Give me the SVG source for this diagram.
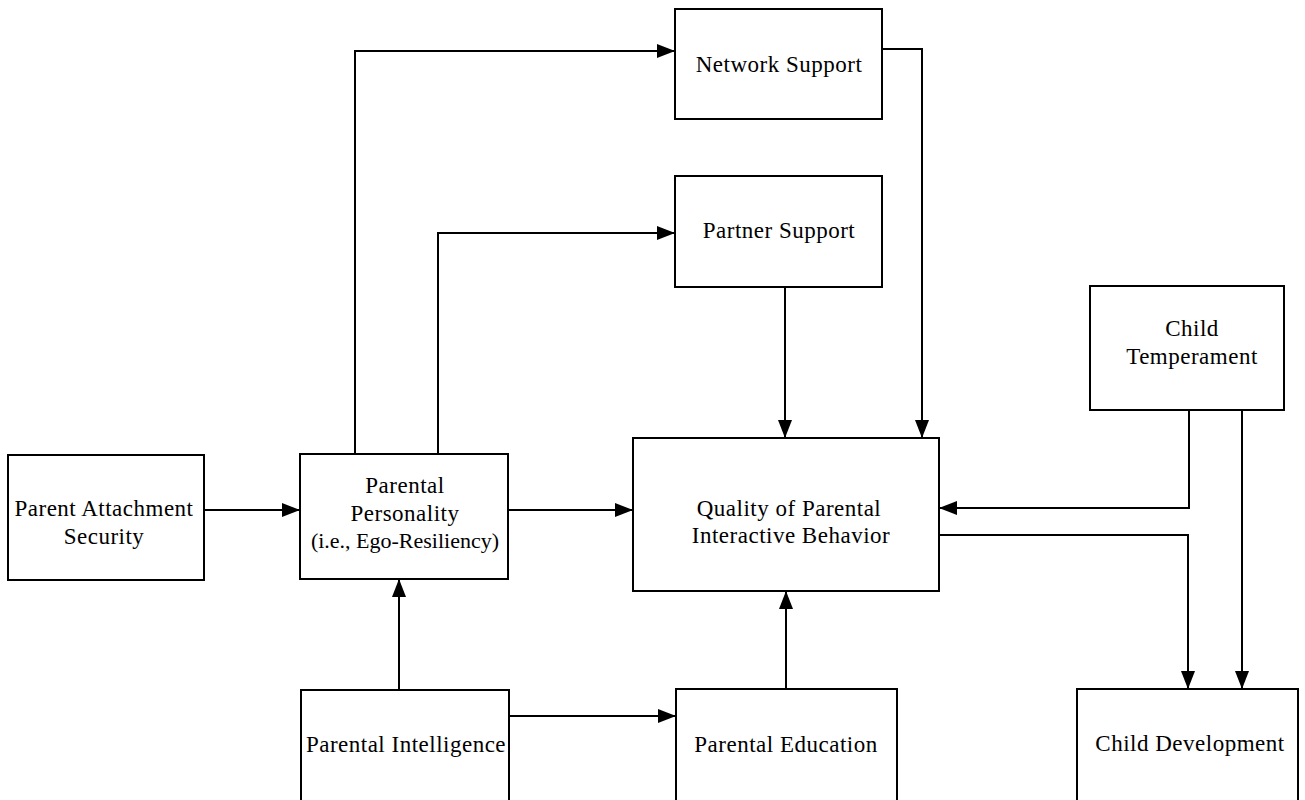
<svg xmlns="http://www.w3.org/2000/svg" width="1305" height="800" viewBox="0 0 1305 800">
<style>
.box{fill:#fff;stroke:#000;stroke-width:2}
.t{font-family:"Liberation Serif","DejaVu Serif",serif;font-size:23px;letter-spacing:0.5px;fill:#000;text-anchor:middle}
.n{font-size:22px;letter-spacing:0}
.c{fill:none;stroke:#000;stroke-width:2}
</style>
<defs>
<marker id="ah" markerWidth="18" markerHeight="14" refX="18" refY="7" orient="auto" markerUnits="userSpaceOnUse">
<path d="M0,0 L18,7 L0,14 Z" fill="#000"/>
</marker>
</defs>
<rect width="1305" height="800" fill="#fff"/>
<g id="connectors">
<path class="c" d="M204,510 H300" marker-end="url(#ah)"/>
<path class="c" d="M508,510 H633" marker-end="url(#ah)"/>
<path class="c" d="M355,454 V51 H675" marker-end="url(#ah)"/>
<path class="c" d="M438,454 V233 H675" marker-end="url(#ah)"/>
<path class="c" d="M882,49 H922 V438" marker-end="url(#ah)"/>
<path class="c" d="M785,287 V438" marker-end="url(#ah)"/>
<path class="c" d="M1189,410 V508 H939" marker-end="url(#ah)"/>
<path class="c" d="M1242,410 V689" marker-end="url(#ah)"/>
<path class="c" d="M939,535 H1188 V689" marker-end="url(#ah)"/>
<path class="c" d="M399,690 V579" marker-end="url(#ah)"/>
<path class="c" d="M509,716 H676" marker-end="url(#ah)"/>
<path class="c" d="M786,689 V591" marker-end="url(#ah)"/>
</g>
<g id="network-support"><rect class="box" x="675" y="9" width="207" height="110"/><text class="t" x="779" y="72">Network Support</text></g>
<g id="partner-support"><rect class="box" x="675" y="176" width="207" height="111"/><text class="t" x="779" y="238">Partner Support</text></g>
<g id="child-temperament"><rect class="box" x="1090" y="286" width="194" height="124"/><text class="t" x="1192" y="336">Child</text><text class="t" x="1192" y="364">Temperament</text></g>
<g id="quality"><rect class="box" x="633" y="438" width="306" height="153"/><text class="t" x="789" y="516">Quality of Parental</text><text class="t" x="791" y="543">Interactive Behavior</text></g>
<g id="parent-attachment"><rect class="box" x="8" y="455" width="196" height="125"/><text class="t" x="104" y="516">Parent Attachment</text><text class="t" x="104" y="544">Security</text></g>
<g id="parental-personality"><rect class="box" x="300" y="454" width="208" height="125"/><text class="t" x="405" y="493">Parental</text><text class="t" x="405" y="521">Personality</text><text class="t n" x="405" y="548">(i.e., Ego-Resiliency)</text></g>
<g id="parental-intelligence"><rect class="box" x="301" y="690" width="208" height="112"/><text class="t" x="406" y="752">Parental Intelligence</text></g>
<g id="parental-education"><rect class="box" x="676" y="689" width="221" height="113"/><text class="t" x="786" y="752">Parental Education</text></g>
<g id="child-development"><rect class="box" x="1077" y="689" width="221" height="113"/><text class="t" x="1190" y="751">Child Development</text></g>
</svg>
